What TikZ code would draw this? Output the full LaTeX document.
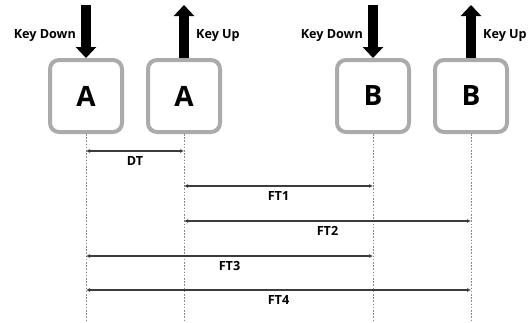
\documentclass[tikz,border=0pt]{standalone}
\usepackage{fontspec}
\setmainfont{Open Sans}
\usetikzlibrary{arrows.meta,calc}
\definecolor{keyframe}{HTML}{ABABAB}
\definecolor{guide}{HTML}{8A8A8A}
\definecolor{dimline}{HTML}{3C3C3C}
\tikzset{
  keybox/.style={draw=keyframe, line width=4pt, fill=white, rounded corners=9pt,
    minimum width=72pt, minimum height=72pt, inner sep=0pt,
    font=\fontsize{28}{30}\selectfont\bfseries},
  press/.style={line width=9.5pt, -{Triangle[width=20pt,length=11pt]}},
  keylabel/.style={inner sep=0pt, font=\fontsize{12.6}{14}\selectfont\bfseries},
  guideline/.style={draw=guide, line width=0.8pt, dash pattern=on 1.6pt off 1.6pt},
  span/.style={draw=dimline, line width=1.3pt, {Latex[length=4pt,width=4pt]}-{Latex[length=4pt,width=4pt]}},
  spanlabel/.style={inner sep=0pt, anchor=base, font=\fontsize{12.6}{14}\selectfont\bfseries}
}
\begin{document}
\begin{tikzpicture}[x=1pt,y=-1pt]
\useasboundingbox (0,0) rectangle (531,322);

% key boxes
\node[keybox] (a1) at (86,96) {A};
\node[keybox] (a2) at (184,96) {A};
\node[keybox] (b1) at (373,96) {B};
\node[keybox] (b2) at (471,96) {B};

% press / release arrows
\coordinate (a1top) at (86,5);
\coordinate (a2top) at (184,5);
\coordinate (b1top) at (373,5);
\coordinate (b2top) at (471,5);
\draw[press] (a1top) -- (a1.north);
\draw[press] (a2.north) -- (a2top);
\draw[press] (b1top) -- (b1.north);
\draw[press] (b2.north) -- (b2top);

\node[keylabel, anchor=base east] (kd1) at (76,38) {Key Down};
\node[keylabel, anchor=base west] (ku1) at (196,38) {Key Up};
\node[keylabel, anchor=base east] (kd2) at (363,38) {Key Down};
\node[keylabel, anchor=base west] (ku2) at (483,38) {Key Up};

% time guides
\coordinate (bottom) at (0,322);
\foreach \k in {a1,a2,b1,b2}
  \draw[guideline] (\k.south) -- (\k.south |- bottom);

% intervals
\coordinate (rDT) at (0,151);
\coordinate (rF1) at (0,186);
\coordinate (rF2) at (0,221);
\coordinate (rF3) at (0,256);
\coordinate (rF4) at (0,290);
\draw[span] (a1 |- rDT) -- (a2 |- rDT) node[spanlabel, midway, yshift=-14.5pt] {DT};
\draw[span] (a2 |- rF1) -- (b1 |- rF1) node[spanlabel, midway, yshift=-14.5pt] {FT1};
\draw[span] (a2 |- rF2) -- (b2 |- rF2) node[spanlabel, midway, yshift=-14.5pt] {FT2};
\draw[span] (a1 |- rF3) -- (b1 |- rF3) node[spanlabel, midway, yshift=-14.5pt] {FT3};
\draw[span] (a1 |- rF4) -- (b2 |- rF4) node[spanlabel, midway, yshift=-14.5pt] {FT4};
\end{tikzpicture}
\end{document}
